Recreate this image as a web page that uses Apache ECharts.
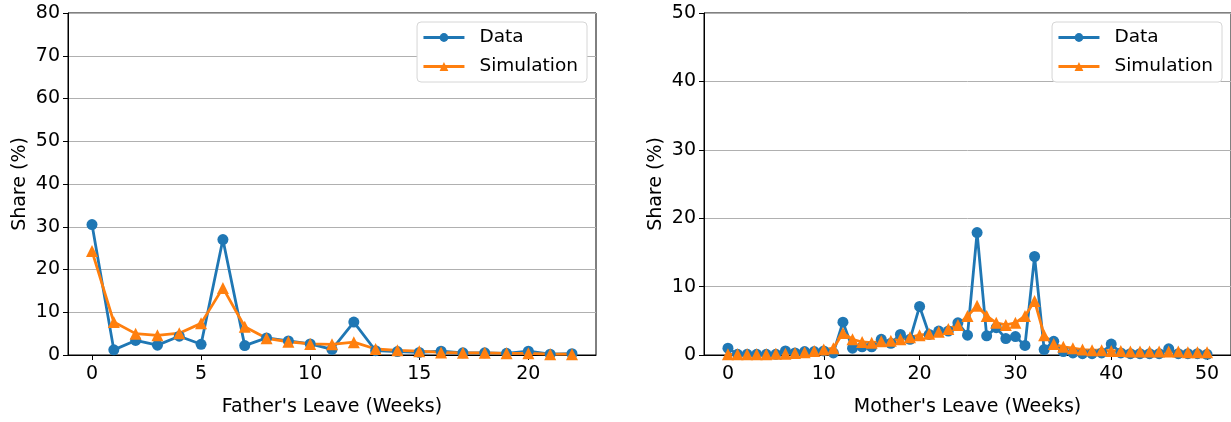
<!DOCTYPE html>
<html>
<head>
<meta charset="utf-8">
<script src="https://cdn.jsdelivr.net/npm/echarts@6/dist/echarts.min.js"></script>
<style>
html,body{margin:0;padding:0;background:#fff;}
#c{width:1231px;height:422px;}
</style>
</head>
<body>
<div id="c"></div>
<script>
const fatherWeeks = Array.from({length: 23}, (_, i) => i);
const fatherData = [30.5,1.2,3.4,2.3,4.4,2.5,27.0,2.2,4.0,3.3,2.6,1.3,7.7,1.0,0.8,0.6,0.9,0.5,0.5,0.4,0.9,0.2,0.3];
const fatherSim  = [24.3,7.7,5.0,4.6,5.1,7.4,15.7,6.6,3.9,3.1,2.6,2.5,3.0,1.4,1.1,0.9,0.6,0.5,0.5,0.4,0.4,0.2,0.2];

const motherWeeks = Array.from({length: 51}, (_, i) => i);
const motherData = [1.0,0.1,0.1,0.1,0.1,0.1,0.6,0.3,0.5,0.5,0.6,0.3,4.8,1.0,1.2,1.2,2.3,1.7,3.0,2.3,7.1,3.0,3.5,3.5,4.7,2.9,17.9,2.8,4.0,2.4,2.7,1.4,14.4,0.8,2.0,0.5,0.3,0.2,0.2,0.3,1.6,0.3,0.2,0.2,0.2,0.2,0.9,0.2,0.2,0.2,0.1];
const motherSim  = [0.1,0.1,0.1,0.1,0.1,0.2,0.2,0.3,0.4,0.6,0.8,1.0,3.2,2.3,1.9,1.8,2.0,2.1,2.3,2.6,2.9,3.1,3.4,3.8,4.4,5.7,7.2,5.7,4.7,4.4,4.7,5.7,7.9,2.9,1.6,1.2,1.0,0.8,0.7,0.7,0.6,0.6,0.5,0.5,0.5,0.5,0.5,0.5,0.4,0.4,0.4];

const fatherXTicks = [0,5,10,15,20];
const motherXTicks = [0,10,20,30,40,50];
const fatherYTicks = [0,10,20,30,40,50,60,70,80];
const motherYTicks = [0,10,20,30,40,50];

const FONT = 'DejaVu Sans';
const BLUE = '#1f77b4', ORANGE = '#ff7f0e';

function xAxis(idx, ticks, min, max, name) {
  return {
    type: 'value', gridIndex: idx, min: min, max: max,
    name: name, nameLocation: 'middle', nameGap: 43,
    nameTextStyle: {fontFamily: FONT, fontSize: 19, color: '#000'},
    axisLine: {show: true, onZero: false, lineStyle: {color: '#000', width: 1}},
    axisTick: {show: true, length: 5, customValues: ticks, lineStyle: {color: '#000'}},
    axisLabel: {customValues: ticks, fontFamily: FONT, fontSize: 19, color: '#000', margin: 10},
    splitLine: {show: false}
  };
}
function yAxis(idx, ticks, max) {
  return {
    type: 'value', gridIndex: idx, min: 0, max: max, interval: 10,
    name: 'Share (%)', nameLocation: 'middle', nameGap: 38,
    nameTextStyle: {fontFamily: FONT, fontSize: 19, color: '#000'},
    axisLine: {show: true, onZero: false, lineStyle: {color: '#000', width: 1}},
    axisTick: {show: true, length: 5, customValues: ticks, lineStyle: {color: '#000'}},
    axisLabel: {customValues: ticks, fontFamily: FONT, fontSize: 19, color: '#000', margin: 8},
    splitLine: {show: true, lineStyle: {color: '#b0b0b0', width: 1}}
  };
}
function lineSeries(name, xi, xs, ys, color, symbol, size) {
  return {
    name: name, type: 'line', xAxisIndex: xi, yAxisIndex: xi,
    data: xs.map((x, i) => [x, ys[i]]),
    symbol: symbol, symbolSize: size, showSymbol: true,
    lineStyle: {color: color, width: 2.8},
    itemStyle: {color: color},
    animation: false
  };
}
function legend(right) {
  return {
    data: ['Data', 'Simulation'], orient: 'vertical', right: right, top: 22,
    backgroundColor: '#fff', borderColor: '#d6d6d6', borderWidth: 1, borderRadius: 4,
    padding: [6, 9, 6, 5], itemGap: 10, itemWidth: 41, itemHeight: 11,
    lineStyle: {width: 2.8},
    textStyle: {fontFamily: FONT, fontSize: 18.5, color: '#000', padding: [0, 0, 0, 10]},
    selectedMode: false
  };
}

const chart = echarts.init(document.getElementById('c'), null, {renderer: 'canvas'});
chart.setOption({
  backgroundColor: '#fff',
  animation: false,
  grid: [
    {left: 68, top: 13, width: 528, height: 343, show: true, borderColor: '#000', borderWidth: 1, backgroundColor: 'transparent'},
    {left: 704, top: 13, width: 527, height: 343, show: true, borderColor: '#000', borderWidth: 1, backgroundColor: 'transparent'}
  ],
  xAxis: [
    xAxis(0, fatherXTicks, -1.1, 23.1, "Father's Leave (Weeks)"),
    xAxis(1, motherXTicks, -2.5, 52.5, "Mother's Leave (Weeks)")
  ],
  yAxis: [
    yAxis(0, fatherYTicks, 80),
    yAxis(1, motherYTicks, 50)
  ],
  legend: [legend(644), legend(9)],
  series: [
    lineSeries('Data', 0, fatherWeeks, fatherData, BLUE, 'circle', 11),
    lineSeries('Simulation', 0, fatherWeeks, fatherSim, ORANGE, 'triangle', 12),
    lineSeries('Data', 1, motherWeeks, motherData, BLUE, 'circle', 11),
    lineSeries('Simulation', 1, motherWeeks, motherSim, ORANGE, 'triangle', 12)
  ]
});
</script>
</body>
</html>
